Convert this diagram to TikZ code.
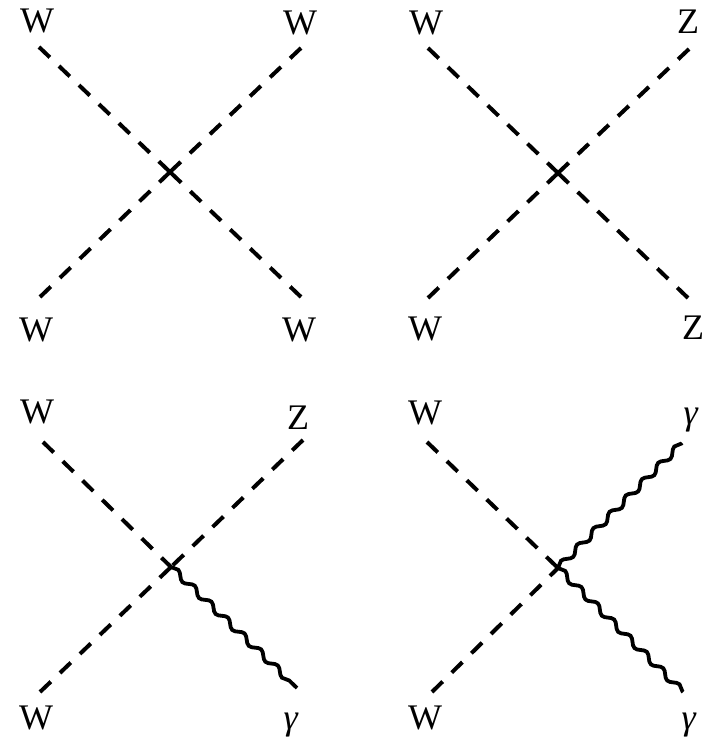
\documentclass[tikz,border=0pt]{standalone}
\usepackage{fontspec}
\setmainfont{Liberation Serif}
\usetikzlibrary{decorations.pathmorphing}

\begin{document}
\begin{tikzpicture}[
			x=0.5pt, y=-0.5pt,
			scalar/.style={line width=2pt, dash pattern=on 7.5pt off 6.3pt},
			photon/.style={line width=1.9pt, decorate, decoration={snake, amplitude=1.5pt, segment length=11.5pt}},
			particle/.style={anchor=base, inner sep=0pt, font=\fontsize{18}{21}\selectfont}
		]
		\useasboundingbox (0,0) rectangle (709,743);
		% WW -> WW
		\coordinate (v1) at (170,172);
		\coordinate (a1) at (39,47);
		\coordinate (b1) at (301,48);
		\coordinate (c1) at (40,297);
		\coordinate (d1) at (301,297);
		\node[particle] (la1) at (37,33) {W};
		\node[particle] (lb1) at (300,35) {W};
		\node[particle] (lc1) at (36,341) {W};
		\node[particle] (ld1) at (299,341) {W};
		\draw[scalar] (a1) -- (v1);
		\draw[scalar] (b1) -- (v1);
		\draw[scalar] (c1) -- (v1);
		\draw[scalar] (d1) -- (v1);
		
		% WW -> ZZ
		\coordinate (v2) at (558,173);
		\coordinate (a2) at (428,48);
		\coordinate (b2) at (689,49);
		\coordinate (c2) at (428,298);
		\coordinate (d2) at (688,298);
		\node[particle] (la2) at (426,35) {W};
		\node[particle] (lb2) at (688,34) {Z};
		\node[particle] (lc2) at (425,340) {W};
		\node[particle] (ld2) at (693,339) {Z};
		\draw[scalar] (a2) -- (v2);
		\draw[scalar] (b2) -- (v2);
		\draw[scalar] (c2) -- (v2);
		\draw[scalar] (d2) -- (v2);
		
		% WW -> Z gamma
		\coordinate (v3) at (171,567);
		\coordinate (a3) at (43,442);
		\coordinate (b3) at (303,440);
		\coordinate (c3) at (40,692);
		\coordinate (d3) at (297,688);
		\node[particle] (la3) at (37,423) {W};
		\node[particle] (lb3) at (298,429) {Z};
		\node[particle] (lc3) at (36,729) {W};
		\node[particle] (ld3) at (291,729) {\textit{γ}};
		\draw[scalar] (a3) -- (v3);
		\draw[scalar] (b3) -- (v3);
		\draw[scalar] (c3) -- (v3);
		\draw[photon] (v3) -- (d3);
		
		% WW -> gamma gamma
		\coordinate (v4) at (558,568);
		\coordinate (a4) at (427,442);
		\coordinate (b4) at (682,443);
		\coordinate (c4) at (432,692);
		\coordinate (d4) at (683,692);
		\node[particle] (la4) at (425,424) {W};
		\node[particle] (lb4) at (691,424) {\textit{γ}};
		\node[particle] (lc4) at (425,729) {W};
		\node[particle] (ld4) at (689,729) {\textit{γ}};
		\draw[scalar] (a4) -- (v4);
		\draw[scalar] (c4) -- (v4);
		\draw[photon] (v4) -- (b4);
		\draw[photon] (v4) -- (d4);
		\end{tikzpicture}
\end{document}
